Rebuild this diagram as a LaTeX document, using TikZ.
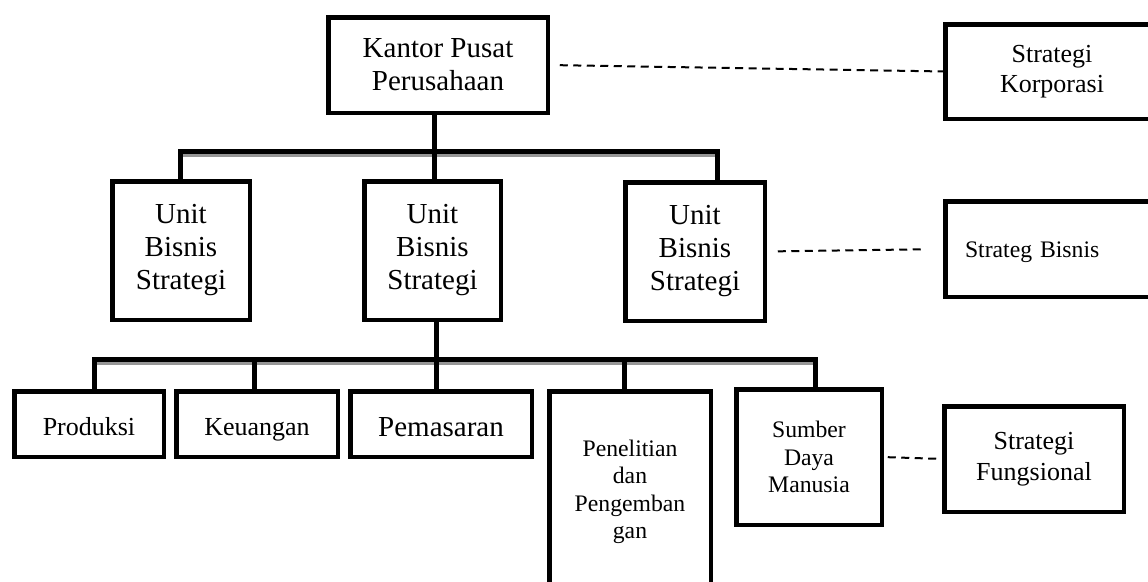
\documentclass[tikz,border=0pt]{standalone}
\usepackage{fontspec}
\setmainfont{Liberation Serif}
\usetikzlibrary{calc}
\definecolor{shadowgray}{RGB}{150,150,150}

\begin{document}
\begin{tikzpicture}[x=1pt, y=-1pt,
        orgbox/.style={rectangle, draw=black, line width=4.5pt, align=center, inner sep=0pt, outer sep=0pt},
        oneline/.style={text height=#1, text depth=0pt},
        bigtext/.style={font=\fontsize{29}{33}\selectfont},
        midtext/.style={font=\fontsize{26}{30.5}\selectfont},
        smalltext/.style={font=\fontsize{23.7}{27.5}\selectfont},
        bus/.style={line width=5pt, line join=miter},
        busshadow/.style={shadowgray, line width=3.4pt},
        dashline/.style={line width=2pt, dash pattern=on 8pt off 5.5pt}
    ]
    \useasboundingbox (0,0) rectangle (1148,581);
    \clip (0,0) rectangle (1148,581);

    % level 1
    \node[orgbox, bigtext, minimum width=219.5, minimum height=95.5] (kantor) at (438,65) {Kantor Pusat\\Perusahaan};
    \node[orgbox, midtext, minimum width=213.5, minimum height=94.5] (korp) at (1052,71.5) {Strategi\\Korporasi};

    % level 2
    \node[orgbox, bigtext, minimum width=137.5, minimum height=138.5] (ubsA) at (181,250.5) {Unit\\Bisnis\\Strategi};
    \node[orgbox, bigtext, minimum width=136.5, minimum height=138.5] (ubsB) at (432.5,250.5) {Unit\\Bisnis\\Strategi};
    \node[orgbox, bigtext, minimum width=139.5, minimum height=138.5] (ubsC) at (695,251.5) {Unit\\Bisnis\\Strategi};
    \node[orgbox, smalltext, oneline=16pt, text width=174, align=left,
        minimum width=213.5, minimum height=95.5] (bisnis) at (1052,249) {Strateg Bisnis};

    % level 3
    \node[orgbox, midtext, oneline=22pt, minimum width=149.5, minimum height=65.5] (prod) at (89,424) {Produksi};
    \node[orgbox, midtext, oneline=22pt, minimum width=161.5, minimum height=65.5] (keu) at (257,424) {Keuangan};
    \node[orgbox, bigtext, oneline=25pt, minimum width=181.5, minimum height=65.5] (pem) at (441,424) {Pemasaran};
    \node[orgbox, smalltext, minimum width=161.5, minimum height=201.5] (pen) at (630,492) {Penelitian\\dan\\Pengemban\\gan};
    \node[orgbox, smalltext, minimum width=145.5, minimum height=135.5] (sdm) at (809,457) {Sumber\\Daya\\Manusia};
    \node[orgbox, midtext, minimum width=179.5, minimum height=105.5] (fung) at (1034,459) {Strategi\\Fungsional};

    % bus points
    \coordinate (topL) at (180,151.5);
    \coordinate (topM) at (434,151.5);
    \coordinate (topR) at (717,151.5);
    \coordinate (lowL) at (94,359.5);
    \coordinate (lowK) at (254,359.5);
    \coordinate (lowM) at (436,359.5);
    \coordinate (lowP) at (624,359.5);
    \coordinate (lowR) at (815,359.5);

    % upper tree
    \draw[busshadow] ([yshift=-4pt]topL) -- ([yshift=-4pt]topR);
    \draw[bus] (ubsA.north -| topL) -- (topL) -- (topR) -- (ubsC.north -| topR);
    \draw[bus] (kantor.south -| topM) -- (ubsB.north -| topM);

    % lower tree
    \draw[busshadow] ([yshift=-4pt]lowL) -- ([yshift=-4pt]lowR);
    \draw[bus] (prod.north -| lowL) -- (lowL) -- (lowR) -- (sdm.north -| lowR);
    \draw[bus] (ubsB.south -| lowM) -- (pem.north -| lowM);
    \draw[bus] (lowK) -- (keu.north -| lowK);
    \draw[bus] (lowP) -- (pen.north -| lowP);

    % strategy levels
    \draw[dashline, shorten <=12pt] (kantor.east) -- (korp.west);
    \draw[dashline, shorten <=13pt, shorten >=20pt] (ubsC.east) -- (bisnis.west);
    \draw[dashline, shorten <=6pt, shorten >=4pt] (sdm.east) -- (fung.west);
\end{tikzpicture}
\end{document}
